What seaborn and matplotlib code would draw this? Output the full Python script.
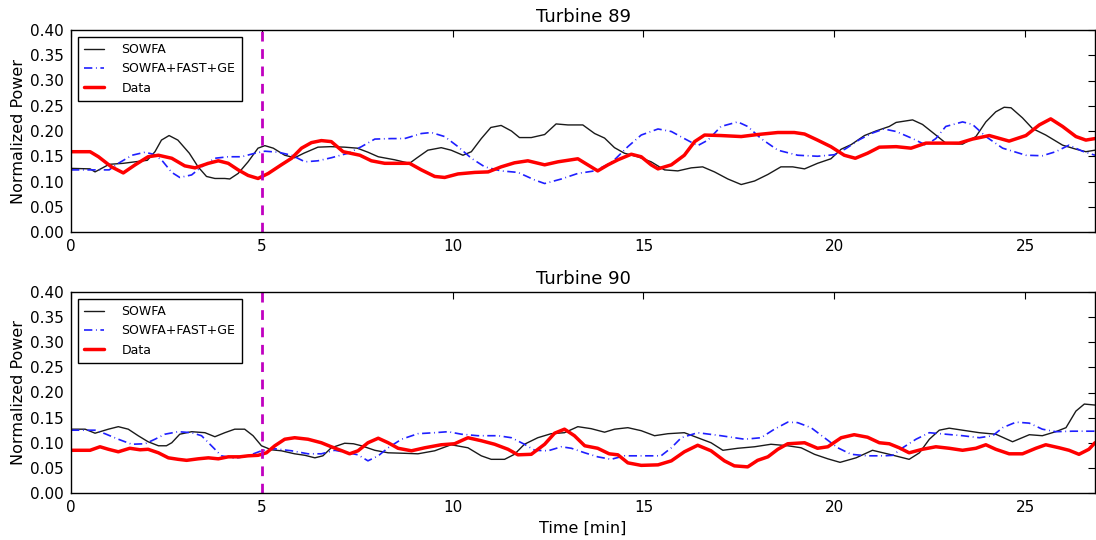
import matplotlib
matplotlib.use("Agg")
import matplotlib.pyplot as plt
import seaborn as sns

# ---------------- Turbine 89 ----------------
t89_sowfa = [0, 0.5, 0.63, 1.0, 1.37, 1.68, 2.0, 2.2, 2.37, 2.57, 2.8, 3.1, 3.33, 3.55, 3.77,
             4.03, 4.16, 4.38, 4.64, 4.9, 5.08, 5.3, 5.6, 5.86, 6.1, 6.47, 6.8, 7.17, 7.5,
             7.78, 8.05, 8.48, 8.87, 9.05, 9.35, 9.7, 9.96, 10.27, 10.49, 10.75, 11.0, 11.27,
             11.54, 11.75, 12.06, 12.41, 12.71, 13.02, 13.41, 13.72, 13.98, 14.24, 14.5,
             14.85, 15.2, 15.55, 15.9, 16.25, 16.55, 16.86, 17.21, 17.56, 17.91, 18.26, 18.6,
             18.91, 19.22, 19.56, 19.91, 20.18, 20.44, 20.79, 21.09, 21.44, 21.62, 22.05,
             22.31, 22.66, 22.92, 23.36, 23.71, 23.97, 24.23, 24.45, 24.63, 24.93, 25.19,
             25.54, 25.98, 26.33, 26.59, 26.83]
p89_sowfa = [0.126, 0.125, 0.119, 0.134, 0.136, 0.139, 0.142, 0.159, 0.182, 0.191, 0.182, 0.156,
             0.129, 0.110, 0.106, 0.106, 0.105, 0.116, 0.139, 0.166, 0.171, 0.166, 0.152, 0.147,
             0.156, 0.168, 0.169, 0.168, 0.166, 0.158, 0.149, 0.143, 0.136, 0.146, 0.162, 0.167,
             0.162, 0.152, 0.159, 0.185, 0.207, 0.211, 0.200, 0.187, 0.187, 0.193, 0.214, 0.212,
             0.212, 0.195, 0.186, 0.167, 0.156, 0.149, 0.139, 0.123, 0.121, 0.127, 0.129, 0.119,
             0.105, 0.094, 0.101, 0.114, 0.129, 0.129, 0.125, 0.136, 0.145, 0.164, 0.173, 0.191,
             0.200, 0.209, 0.217, 0.222, 0.213, 0.192, 0.176, 0.174, 0.189, 0.218, 0.238, 0.247,
             0.246, 0.226, 0.205, 0.192, 0.172, 0.164, 0.159, 0.162]

t89_fast = [0, 0.72, 1.0, 1.24, 1.6, 1.94, 2.15, 2.37, 2.64, 2.85, 3.16, 3.42, 3.77, 4.12, 4.47,
            4.82, 5.08, 5.43, 5.78, 6.13, 6.47, 6.82, 7.26, 7.61, 7.96, 8.4, 8.74, 9.18, 9.44,
            9.79, 10.14, 10.49, 10.84, 11.27, 11.71, 12.15, 12.41, 12.85, 13.28, 13.72, 14.07,
            14.24, 14.59, 14.94, 15.38, 15.73, 16.07, 16.42, 16.69, 17.03, 17.47, 17.73, 18.08,
            18.52, 19.04, 19.56, 20.0, 20.3, 20.66, 21.0, 21.3, 21.62, 22.05, 22.4, 22.66,
            22.92, 23.36, 23.62, 23.97, 24.41, 25.02, 25.45, 25.8, 26.15, 26.5, 26.83]
p89_fast = [0.123, 0.123, 0.123, 0.136, 0.152, 0.158, 0.154, 0.143, 0.118, 0.108, 0.113, 0.129,
            0.146, 0.149, 0.149, 0.156, 0.160, 0.158, 0.152, 0.139, 0.141, 0.147, 0.156, 0.169,
            0.184, 0.185, 0.185, 0.195, 0.197, 0.189, 0.169, 0.146, 0.129, 0.121, 0.118, 0.103,
            0.096, 0.105, 0.116, 0.121, 0.134, 0.143, 0.169, 0.192, 0.204, 0.199, 0.185, 0.171,
            0.182, 0.209, 0.218, 0.209, 0.185, 0.162, 0.152, 0.150, 0.153, 0.165, 0.183, 0.196,
            0.204, 0.199, 0.185, 0.172, 0.185, 0.209, 0.218, 0.213, 0.189, 0.166, 0.152, 0.151,
            0.159, 0.172, 0.160, 0.152]

t89_data = [0, 0.5, 0.72, 1.06, 1.37, 1.68, 2.02, 2.29, 2.64, 2.98, 3.25, 3.6, 3.86, 4.12, 4.38,
            4.64, 4.9, 5.17, 5.51, 5.78, 6.04, 6.3, 6.56, 6.82, 7.13, 7.57, 7.87, 8.22, 8.57,
            8.87, 9.18, 9.53, 9.79, 10.14, 10.58, 10.93, 11.27, 11.62, 11.97, 12.41, 12.76,
            13.28, 13.54, 13.8, 14.07, 14.33, 14.68, 14.94, 15.2, 15.38, 15.73, 16.07, 16.34,
            16.6, 17.03, 17.56, 17.99, 18.52, 18.95, 19.22, 19.56, 19.91, 20.26, 20.55, 20.87,
            21.18, 21.62, 22.01, 22.4, 22.84, 23.27, 23.62, 24.06, 24.58, 25.02, 25.37, 25.67,
            25.98, 26.33, 26.59, 26.83]
p89_data = [0.159, 0.159, 0.149, 0.129, 0.117, 0.133, 0.149, 0.152, 0.146, 0.131, 0.127, 0.136,
            0.141, 0.136, 0.123, 0.112, 0.106, 0.116, 0.133, 0.146, 0.166, 0.177, 0.181, 0.179,
            0.159, 0.152, 0.141, 0.136, 0.136, 0.136, 0.123, 0.110, 0.108, 0.115, 0.118, 0.119,
            0.129, 0.137, 0.141, 0.133, 0.139, 0.145, 0.133, 0.121, 0.133, 0.143, 0.154, 0.149,
            0.133, 0.125, 0.133, 0.152, 0.179, 0.192, 0.191, 0.189, 0.193, 0.197, 0.197, 0.194,
            0.182, 0.169, 0.152, 0.146, 0.156, 0.168, 0.169, 0.166, 0.176, 0.176, 0.176, 0.184,
            0.191, 0.180, 0.191, 0.212, 0.224, 0.209, 0.189, 0.182, 0.185]

# ---------------- Turbine 90 ----------------
t90_sowfa = [0, 0.37, 0.63, 0.98, 1.24, 1.5, 1.76, 2.02, 2.29, 2.5, 2.64, 2.85, 3.16, 3.51, 3.77,
             4.03, 4.29, 4.55, 4.77, 4.99, 5.25, 5.51, 5.86, 6.13, 6.39, 6.6, 6.82, 7.17, 7.4,
             7.61, 7.96, 8.31, 8.74, 9.09, 9.53, 9.96, 10.4, 10.75, 11.01, 11.36, 11.62, 11.88,
             12.23, 12.58, 12.93, 13.28, 13.63, 13.98, 14.24, 14.59, 14.94, 15.29, 15.64, 16.07,
             16.42, 16.77, 17.08, 17.47, 17.91, 18.34, 18.78, 19.13, 19.48, 19.83, 20.15, 20.57,
             21.0, 21.44, 21.96, 22.23, 22.49, 22.75, 23.01, 23.36, 23.8, 24.23, 24.67, 25.11,
             25.45, 25.8, 26.07, 26.33, 26.55, 26.83]
p90_sowfa = [0.127, 0.127, 0.119, 0.127, 0.132, 0.127, 0.114, 0.102, 0.094, 0.094, 0.100, 0.117,
             0.122, 0.120, 0.112, 0.120, 0.127, 0.127, 0.114, 0.094, 0.086, 0.084, 0.078, 0.075,
             0.070, 0.074, 0.090, 0.099, 0.098, 0.094, 0.085, 0.080, 0.079, 0.078, 0.084, 0.096,
             0.090, 0.074, 0.067, 0.067, 0.077, 0.097, 0.110, 0.118, 0.120, 0.132, 0.128, 0.121,
             0.127, 0.130, 0.124, 0.114, 0.118, 0.120, 0.110, 0.100, 0.085, 0.089, 0.092, 0.097,
             0.094, 0.090, 0.077, 0.068, 0.061, 0.070, 0.085, 0.077, 0.067, 0.080, 0.107, 0.125,
             0.129, 0.125, 0.120, 0.117, 0.102, 0.116, 0.114, 0.122, 0.130, 0.163, 0.177, 0.175]

t90_fast = [0, 0.63, 0.89, 1.24, 1.59, 1.94, 2.2, 2.46, 2.81, 3.16, 3.42, 3.68, 3.94, 4.29, 4.64,
            4.99, 5.34, 5.78, 6.21, 6.56, 6.91, 7.26, 7.52, 7.78, 8.05, 8.31, 8.66, 9.09, 9.53,
            9.88, 10.23, 10.66, 11.19, 11.54, 11.88, 12.15, 12.5, 12.85, 13.11, 13.46, 13.8,
            14.15, 14.5, 15.03, 15.46, 15.73, 15.99, 16.42, 17.03, 17.65, 18.08, 18.43, 18.78,
            19.04, 19.39, 19.74, 20.09, 20.44, 20.87, 21.31, 21.53, 21.79, 22.14, 22.49, 22.92,
            23.36, 23.8, 24.15, 24.41, 24.76, 25.11, 25.45, 25.8, 26.24, 26.83]
p90_fast = [0.125, 0.125, 0.118, 0.107, 0.097, 0.098, 0.107, 0.117, 0.122, 0.120, 0.114, 0.094,
            0.074, 0.069, 0.074, 0.084, 0.088, 0.084, 0.078, 0.078, 0.085, 0.080, 0.076, 0.064,
            0.074, 0.090, 0.107, 0.118, 0.120, 0.122, 0.117, 0.114, 0.114, 0.110, 0.097, 0.085,
            0.084, 0.092, 0.089, 0.080, 0.072, 0.067, 0.074, 0.074, 0.074, 0.090, 0.110, 0.120,
            0.114, 0.107, 0.110, 0.127, 0.141, 0.140, 0.130, 0.110, 0.090, 0.077, 0.074, 0.074,
            0.075, 0.090, 0.107, 0.120, 0.117, 0.114, 0.110, 0.114, 0.130, 0.141, 0.139, 0.127,
            0.122, 0.123, 0.123]

t90_data = [0, 0.5, 0.76, 0.98, 1.24, 1.54, 1.81, 2.02, 2.29, 2.55, 2.81, 3.03, 3.33, 3.6, 3.86,
            4.12, 4.42, 4.64, 4.9, 5.12, 5.34, 5.6, 5.86, 6.21, 6.56, 6.82, 7.1, 7.3, 7.52, 7.78,
            8.05, 8.31, 8.57, 8.92, 9.27, 9.7, 10.05, 10.4, 10.75, 11.1, 11.45, 11.71, 12.06,
            12.41, 12.67, 12.93, 13.19, 13.46, 13.8, 14.1, 14.33, 14.59, 14.94, 15.38, 15.73,
            16.07, 16.42, 16.77, 17.12, 17.38, 17.73, 17.99, 18.26, 18.52, 18.78, 19.22, 19.56,
            19.83, 20.18, 20.52, 20.87, 21.18, 21.44, 21.7, 21.96, 22.31, 22.66, 23.01, 23.36,
            23.71, 23.97, 24.23, 24.58, 24.93, 25.28, 25.54, 25.89, 26.15, 26.41, 26.67, 26.83]
p90_data = [0.085, 0.085, 0.092, 0.087, 0.082, 0.089, 0.086, 0.087, 0.080, 0.070, 0.067, 0.065,
            0.068, 0.070, 0.068, 0.072, 0.072, 0.074, 0.075, 0.080, 0.094, 0.107, 0.110, 0.107,
            0.100, 0.092, 0.084, 0.078, 0.084, 0.100, 0.109, 0.100, 0.089, 0.084, 0.090, 0.096,
            0.098, 0.110, 0.104, 0.097, 0.087, 0.076, 0.077, 0.097, 0.119, 0.127, 0.114, 0.094,
            0.089, 0.078, 0.076, 0.060, 0.055, 0.056, 0.064, 0.082, 0.095, 0.084, 0.064, 0.054,
            0.052, 0.065, 0.072, 0.087, 0.098, 0.100, 0.089, 0.092, 0.110, 0.116, 0.111, 0.100,
            0.098, 0.090, 0.080, 0.087, 0.092, 0.089, 0.085, 0.089, 0.096, 0.087, 0.078, 0.078,
            0.089, 0.096, 0.090, 0.085, 0.077, 0.087, 0.100]

series_labels = ["SOWFA", "SOWFA+FAST+GE", "Data"]
titles = ["Turbine 89", "Turbine 90"]
y_ticks = [0.00, 0.05, 0.10, 0.15, 0.20, 0.25, 0.30, 0.35, 0.40]
x_ticks = [0, 5, 10, 15, 20, 25]
event_time = 5

sns.set_theme(style="white")
plt.rcParams.update({
    "font.family": ["DejaVu Sans"],
    "text.color": "black",
    "axes.labelcolor": "black",
    "axes.edgecolor": "black",
    "axes.linewidth": 1.0,
    "xtick.direction": "in",
    "ytick.direction": "in",
    "xtick.top": True,
    "ytick.right": True,
    "xtick.major.size": 5,
    "ytick.major.size": 5,
    "xtick.major.width": 0.8,
    "ytick.major.width": 0.8,
    "xtick.color": "black",
    "ytick.color": "black",
    "lines.scale_dashes": False,
})

W, H = 1096, 540
fig = plt.figure(figsize=(W / 100, H / 100), dpi=100)
ax_top = fig.add_axes([71 / W, 1 - 232 / H, (1095 - 71) / W, (232 - 30) / H])
ax_bot = fig.add_axes([71 / W, 1 - 493 / H, (1095 - 71) / W, (493 - 292) / H])

panels = [
    (ax_top, (t89_sowfa, p89_sowfa), (t89_fast, p89_fast), (t89_data, p89_data)),
    (ax_bot, (t90_sowfa, p90_sowfa), (t90_fast, p90_fast), (t90_data, p90_data)),
]

for (ax, sowfa, fast, data), title in zip(panels, titles):
    sns.lineplot(x=sowfa[0], y=sowfa[1], ax=ax, color="#1a1a1a", linewidth=1.0,
                 label=series_labels[0], estimator=None, sort=False)
    sns.lineplot(x=fast[0], y=fast[1], ax=ax, color="#1f1fff", linewidth=1.2,
                 linestyle=(0, (6.0, 2.6, 0.6, 2.6)),
                 label=series_labels[1], estimator=None, sort=False)
    sns.lineplot(x=data[0], y=data[1], ax=ax, color="red", linewidth=2.5,
                 label=series_labels[2], estimator=None, sort=False)
    ax.axvline(event_time, color="#c000c0", linewidth=2.0, linestyle=(0, (7, 5.5)))

    ax.set_xlim(0, 26.83)
    ax.set_ylim(0, 0.40)
    ax.set_xticks(x_ticks)
    ax.set_yticks(y_ticks)
    ax.set_yticklabels([f"{v:.2f}" for v in y_ticks])
    ax.tick_params(axis="both", labelsize=11, labelcolor="black")
    ax.tick_params(axis="y", pad=5)
    ax.tick_params(axis="x", pad=5)
    ax.set_title(title, fontsize=13, pad=6, color="black")
    ax.set_ylabel("Normalized Power", fontsize=11.5, labelpad=3)
    ax.set_xlabel("")
    for sp in ax.spines.values():
        sp.set_visible(True)
        sp.set_color("black")

    leg = ax.legend(loc="upper left", fontsize=9, frameon=True, fancybox=False,
                    edgecolor="black", framealpha=1, handlelength=1.6,
                    handletextpad=1.4, borderpad=0.5, borderaxespad=0.55,
                    labelcolor="black")
    leg.get_frame().set_linewidth(1.0)

ax_bot.set_xlabel("Time [min]", fontsize=11.5, labelpad=4)

fig.savefig("out.png", dpi=100)
